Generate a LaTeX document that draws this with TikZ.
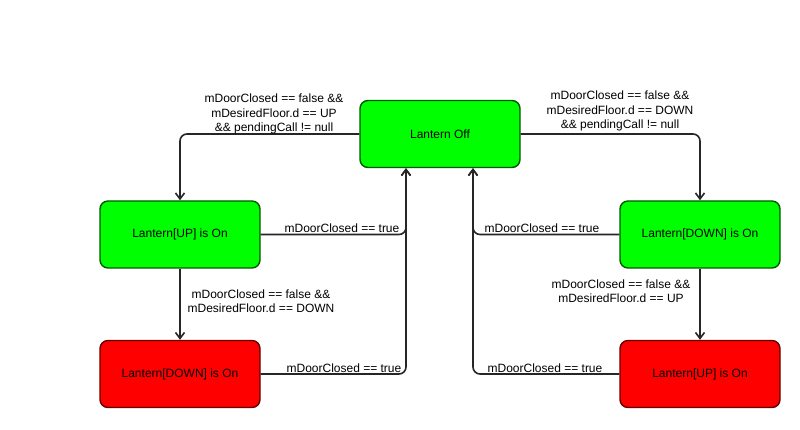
\documentclass[tikz,border=0pt]{standalone}
\usepackage{fontspec}
\setmainfont{Liberation Sans}
\usetikzlibrary{arrows.meta}
\tikzstyle{state}=[draw=green!35!black,fill=green,line width=1.4pt,rounded corners=8pt,
	minimum width=160pt,minimum height=67pt,inner sep=0pt,font=\fontsize{12}{14.5}\selectfont]
\tikzstyle{stateon}=[state,draw=red!40!black,fill=red]
\tikzstyle{guard}=[align=center,inner sep=0pt,font=\fontsize{12}{14.5}\selectfont]
\tikzstyle{trans}=[draw=black!85,line width=1.6pt,rounded corners=7pt,
	-{Straight Barb[length=6pt,width=9pt]}]

\begin{document}
\begin{tikzpicture}[x=1pt,y=-1pt]
\useasboundingbox (0,0) rectangle (800,430);
% states
\node[state] (off) at (440,134) {Lantern Off};
\node[state] (upLeft) at (180,234.5) {Lantern[UP] is On};
\node[stateon] (downLeft) at (180,374) {Lantern[DOWN] is On};
\node[state] (downRight) at (700,234.5) {Lantern[DOWN] is On};
\node[stateon] (upRight) at (700,374) {Lantern[UP] is On};

% transitions
\draw[trans] (off.west) -| (upLeft.north);
\draw[trans] (off.east) -| (downRight.north);
\draw[trans] (upLeft) -- (downLeft);
\draw[trans] (downRight) -- (upRight);
\draw[trans] (upLeft.east) -| ([xshift=-34pt]off.south);
\draw[trans] (downLeft.east) -| ([xshift=-34pt]off.south);
\draw[trans] (downRight.west) -| ([xshift=33pt]off.south);
\draw[trans] (upRight.west) -| ([xshift=33pt]off.south);

% guards
\node[guard] (gOffUp) at (274,114) {mDoorClosed == false \&\&\\mDesiredFloor.d == UP\\\&\& pendingCall != null};
\node[guard] (gOffDown) at (620,111) {mDoorClosed == false \&\&\\mDesiredFloor.d == DOWN\\\&\& pendingCall != null};
\node[guard] (gUpOff) at (342,228) {mDoorClosed == true};
\node[guard] (gDownOffL) at (344,368) {mDoorClosed == true};
\node[guard] (gDownOffR) at (542,228) {mDoorClosed == true};
\node[guard] (gUpOffR) at (545,368) {mDoorClosed == true};
\node[guard] (gUpDown) at (261,301) {mDoorClosed == false \&\&\\mDesiredFloor.d == DOWN};
\node[guard] (gDownUp) at (621,291) {mDoorClosed == false \&\&\\mDesiredFloor.d == UP};
\end{tikzpicture}
\end{document}
